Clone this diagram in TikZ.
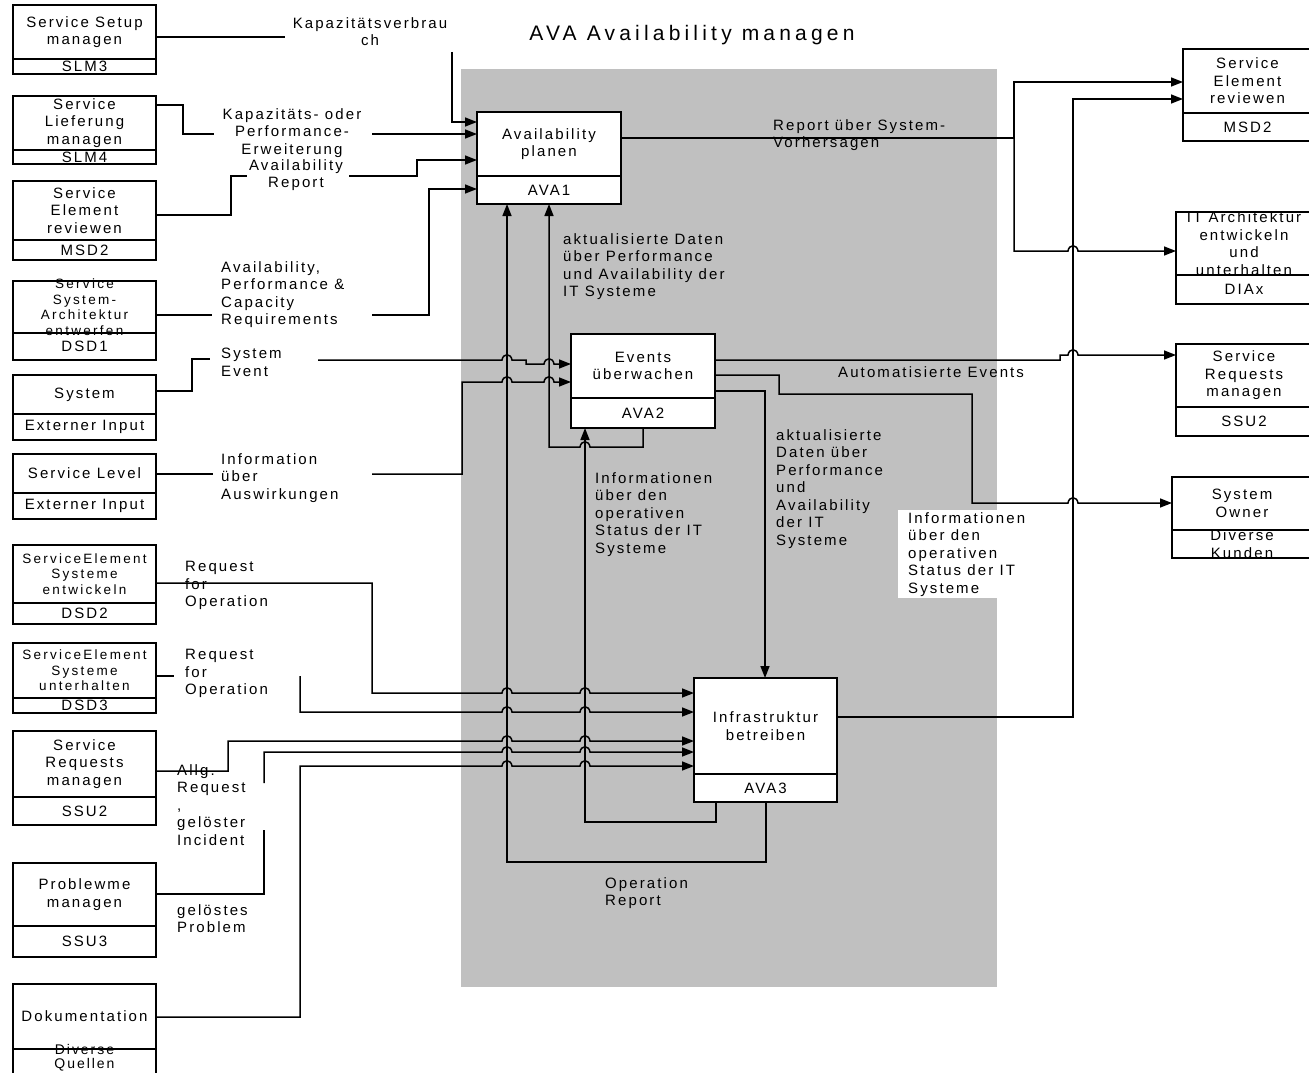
\documentclass[tikz,border=0pt]{standalone}
\usepackage{fontspec}
\setmainfont{Liberation Sans}
\newfontfamily\lblfont[LetterSpace=14]{Liberation Sans}
\newfontfamily\smlfont[LetterSpace=17]{Liberation Sans}
\newfontfamily\ttlfont[LetterSpace=20]{Liberation Sans}
\usetikzlibrary{arrows.meta}
\definecolor{panelgrey}{RGB}{192,192,192}
\tikzset{
  conn/.style={line width=1.5pt},
  arr/.style={conn,-{Triangle[length=12pt,width=9pt]}},
  jump/.style 2 args={insert path={-- ({#1-5},#2) .. controls ({#1-4},{#2-7}) and ({#1+4},{#2-7}) .. ({#1+5},#2)}},
  jumpl/.style 2 args={insert path={-- ({#1+5},#2) .. controls ({#1+4},{#2-7}) and ({#1-4},{#2-7}) .. ({#1-5},#2)}},
  boxs/.style={draw,fill=white,line width=1.6pt,inner sep=0pt,outer sep=0pt},
  btext/.style={font={\lblfont\fontsize{15}{17.5}\selectfont},align=center,inner sep=0pt},
  stext/.style={font={\smlfont\fontsize{13.5}{15.5}\selectfont},align=center,inner sep=0pt},
  lbl/.style={font={\lblfont\fontsize{15}{17.5}\selectfont},align=left,inner sep=0pt,anchor=north west},
  clbl/.style={font={\lblfont\fontsize{15}{17.5}\selectfont},align=center,inner sep=0pt},
}
\newcommand\ibox[9][btext]{%
  \node[boxs,minimum width={#5-#3},minimum height={#6-#4}] (#2) at ({(#3+#5)/2},{(#4+#6)/2}) {};
  \draw[line width=1.6pt] (#3,#7) -- (#5,#7);
  \node[#1] at ({(#3+#5)/2},{(#4+#7)/2}) {#8};
  \node[btext] at ({(#3+#5)/2},{(#7+#6)/2}) {#9};
}
\begin{document}
\begin{tikzpicture}[x=1pt,y=-1pt]
\useasboundingbox (0,0) rectangle (1309,1073);
\fill[panelgrey] (461,69) rectangle (997,987);
\node[font={\ttlfont\fontsize{21}{24}\selectfont},inner sep=0pt] (title) at (692,35) {AVA Availability managen};

% ---- connectors into AVA1
\coordinate (k1) at (452,52);
\draw[conn] (156,37) -- (285,37);
\draw[arr] (k1) |- (477,122);
\draw[conn] (156,105) -| (183,134) -- (214,134);
\draw[arr] (372,134) -- (477,134);
\draw[conn] (156,215) -| (231,176) -- (247,176);
\draw[arr] (349,176) -| (417,160) -- (477,160);
\draw[conn] (156,315) -- (212,315);
\draw[arr] (372,315) -| (429,189) -- (477,189);

% ---- connectors into AVA2
\draw[conn] (156,391) -| (192,359) -- (210,359);
\draw[arr] (318,360) [jump={507}{360}] -- (526,360) -- (526,364) [jump={549}{364}] -- (571,364);
\draw[conn] (156,474) -- (213,474);
\draw[arr] (372,474) -| (462,382) [jump={507}{382}] [jump={549}{382}] -- (571,382);

% ---- internal feedback
\draw[arr] (766,802) -- (766,862) -| (507,204);
\draw[arr] (643,428) -- (643,447) [jumpl={585}{447}] -- (549,447) -- (549,204);
\draw[arr] (716,802) -- (716,822) -| (585,428);

% ---- outputs of AVA2
\draw[arr] (715,360) -- (1060,360) -- (1060,355) [jump={1073}{355}] -- (1176,355);
\draw[arr] (715,375) -- (779,375) -- (779,394) -- (972,394) -- (972,503) [jump={1073}{503}] -- (1172,503);
\draw[arr] (715,391) -| (765,678);

% ---- outputs of AVA1 / AVA3
\draw[arr] (621,138) -| (1014,82) -- (1183,82);
\draw[arr] (1014,138) -- (1014,251) [jump={1073}{251}] -- (1176,251);
\draw[arr] (837,717) -| (1073,99) -- (1183,99);

% ---- connectors into AVA3
\draw[arr] (156,583) -| (372,693) [jump={507}{693}] [jump={585}{693}] -- (694,693);
\draw[conn] (156,676) -- (174,676);
\draw[arr] (300,676) -- (300,712) [jump={507}{712}] [jump={585}{712}] -- (694,712);
\draw[arr] (156,771) -| (228,741) [jump={507}{741}] [jump={585}{741}] -- (694,741);
\draw[conn] (156,894) -| (264,830);
\draw[arr] (264,783) -- (264,752) [jump={507}{752}] [jump={585}{752}] -- (694,752);
\draw[arr] (156,1017) -| (300,766) [jump={507}{766}] [jump={585}{766}] -- (694,766);

% ---- boxes
\ibox{slm3}{13}{5}{156}{74}{59}{Service Setup\\managen}{SLM3}
\ibox{slm4}{13}{96}{156}{164}{150}{Service\\Lieferung\\managen}{SLM4}
\ibox{msd2l}{13}{181}{156}{260}{240}{Service\\Element\\reviewen}{MSD2}
\ibox[stext]{dsd1}{13}{281}{156}{360}{333}{Service\\System-\\Architektur\\entwerfen}{DSD1}
\ibox{sys}{13}{375}{156}{440}{414}{System}{Externer Input}
\ibox{slev}{13}{454}{156}{519}{493}{Service Level}{Externer Input}
\ibox[stext]{dsd2}{13}{545}{156}{624}{603}{ServiceElement\\Systeme\\entwickeln}{DSD2}
\ibox[stext]{dsd3}{13}{643}{156}{713}{698}{ServiceElement\\Systeme\\unterhalten}{DSD3}
\ibox{ssu2l}{13}{731}{156}{825}{797}{Service\\Requests\\managen}{SSU2}
\ibox{ssu3}{13}{863}{156}{957}{926}{Problewme\\managen}{SSU3}
\ibox{doku}{13}{984}{156}{1076}{1049}{Dokumentation}{}
\node[font={\lblfont\fontsize{14}{14}\selectfont},align=center,inner sep=0pt] (dokub) at (84.5,1058) {Diverse\\Quellen};
\ibox{ava1}{477}{112}{621}{204}{176}{Availability\\planen}{AVA1}
\ibox{ava2}{571}{334}{715}{428}{398}{Events\\überwachen}{AVA2}
\ibox{ava3}{694}{678}{837}{802}{774}{Infrastruktur\\betreiben}{AVA3}
\ibox{msd2r}{1183}{49}{1312}{141}{113}{Service\\Element\\reviewen}{MSD2}
\ibox{diax}{1176}{212}{1312}{304}{275}{IT Architektur\\entwickeln\\und\\unterhalten}{DIAx}
\ibox{ssu2r}{1176}{344}{1312}{436}{407}{Service\\Requests\\managen}{SSU2}
\ibox{sysown}{1172}{477}{1312}{558}{530}{System\\Owner}{Diverse\\Kunden}

% ---- labels
\node[clbl] (lkapv) at (370,31.5) {Kapazitätsverbrau\\ch};
\node[clbl] (lkperf) at (292,133) {Kapazitäts- oder\\Performance-\\Erweiterung};
\node[clbl] (larep) at (296,175) {Availability\\Report};
\node[lbl] (lapcr) at (221,261) {Availability,\\Performance \&\\Capacity\\Requirements};
\node[lbl] (lsysev) at (221,348) {System\\Event};
\node[lbl] (linfo) at (221,453) {Information\\über\\Auswirkungen};
\node[lbl] (lrfo1) at (185,561) {Request\\for\\Operation};
\node[lbl] (lrfo2) at (185,649) {Request\\for\\Operation};
\node[lbl] (lallg) at (177,764) {Allg.\\Request\\,\\gelöster\\Incident};
\node[lbl] (lgprob) at (177,904) {gelöstes\\Problem};
\node[lbl] (lrep) at (773,119) {Report über System-\\Vorhersagen};
\node[lbl] (lakt1) at (563,233) {aktualisierte Daten\\über Performance\\und Availability der\\IT Systeme};
\node[lbl] (lauto) at (838,366) {Automatisierte Events};
\node[lbl] (linfo1) at (595,472) {Informationen\\über den\\operativen\\Status der IT\\Systeme};
\node[lbl] (lakt2) at (776,429) {aktualisierte\\Daten über\\Performance\\und\\Availability\\der IT\\Systeme};
\node[lbl,fill=white,inner xsep=10pt,inner ysep=2pt] (linfo2) at (898,510) {Informationen\\über den\\operativen\\Status der IT\\Systeme};
\node[lbl] (loprep) at (605,877) {Operation\\Report};
\end{tikzpicture}
\end{document}
